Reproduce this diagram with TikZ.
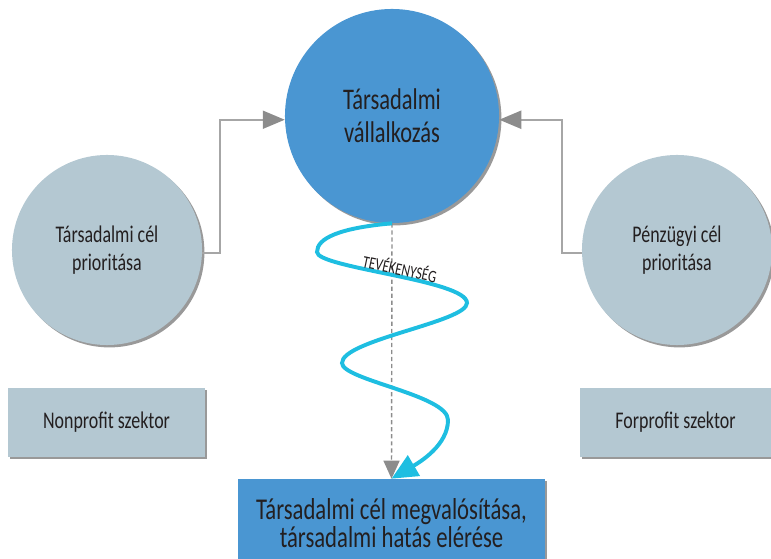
\documentclass[tikz,border=0pt]{standalone}
\usepackage{fontspec}
\setmainfont{Carlito}[FakeStretch=0.75]
\usetikzlibrary{arrows.meta, positioning, shadows}
\definecolor{socblue}{RGB}{74,150,210}
\definecolor{prioblue}{RGB}{180,200,210}
\definecolor{wavecyan}{RGB}{30,190,225}
\definecolor{textdark}{RGB}{35,31,32}

\begin{document}
\begin{tikzpicture}[x=0.025cm, y=0.025cm,
		base/.style = {text=textdark, align=center, inner sep=0pt},
		shade/.style = {drop shadow={shadow xshift=0.06cm, shadow yshift=-0.06cm, fill=black!40, opacity=1}},
		bigcirc/.style = {circle, base, shade, fill=socblue, minimum size=5.35cm, font=\fontsize{21.3}{23.5}\selectfont},
		prio/.style = {circle, base, shade, fill=prioblue, minimum size=4.75cm, font=\fontsize{17}{20}\selectfont},
		sector/.style = {rectangle, base, shade, fill=prioblue, minimum height=1.725cm, font=\fontsize{17}{20}\selectfont},
		goalbox/.style = {rectangle, base, shade, fill=socblue, minimum width=7.675cm, minimum height=2.2cm, font=\fontsize{21.5}{19.5}\selectfont},
		lbl/.style = {base, font=\fontsize{12.4}{14}\selectfont},
		conn/.style = {draw=black!35, line width=1.4pt, -{Triangle[length=0.55cm, width=0.45cm, color=black!45]}},
		dashconn/.style = {draw=black!45, dashed, dash pattern=on 3pt off 2pt, line width=1pt, -{Triangle[length=0.45cm, width=0.4cm]}},
		wave/.style = {draw=wavecyan, line width=2.8pt, -{Triangle[length=0.65cm, width=0.58cm]}}
		]
		\useasboundingbox (0,0) rectangle (771,559);
		
		\node (soc) [bigcirc] at (392,443) {Társadalmi\\vállalkozás};
		\node (left) [prio] at (107,309) {Társadalmi cél\\prioritása};
		\node (right) [prio] at (677,309) {Pénzügyi cél\\prioritása};
		\node (nonprofit) [sector, minimum width=4.925cm] at (106.5,136.5) {Nonprofit szektor};
		\node (forprofit) [sector, minimum width=4.775cm] at (675.5,136.5) {Forprofit szektor};
		\node (goal) [goalbox] at (391.5,36) {Társadalmi cél megvalósítása,\\társadalmi hatás elérése};
		
		\draw[conn] (left.-2) -- ++(18,0) |- (soc.182);
		\draw[conn] (right.182) -- ++(-20,0) |- (soc.-2);
		\draw[dashconn] (soc.south) -- (goal.north);
		
		% activity wave
		\draw[wave] (soc.south) .. controls (340,331) and (317,321) .. (317,307)
			.. controls (317,291) and (467,279) .. (467,256)
			.. controls (467,237) and (342,219) .. (342,196)
			.. controls (342,179) and (448,164) .. (448,139)
			.. controls (448,114) and (420,97) .. (goal.north);
		\node (act) [lbl, rotate=-12] at (400,291) {TEVÉKENYSÉG};
	\end{tikzpicture}
\end{document}
